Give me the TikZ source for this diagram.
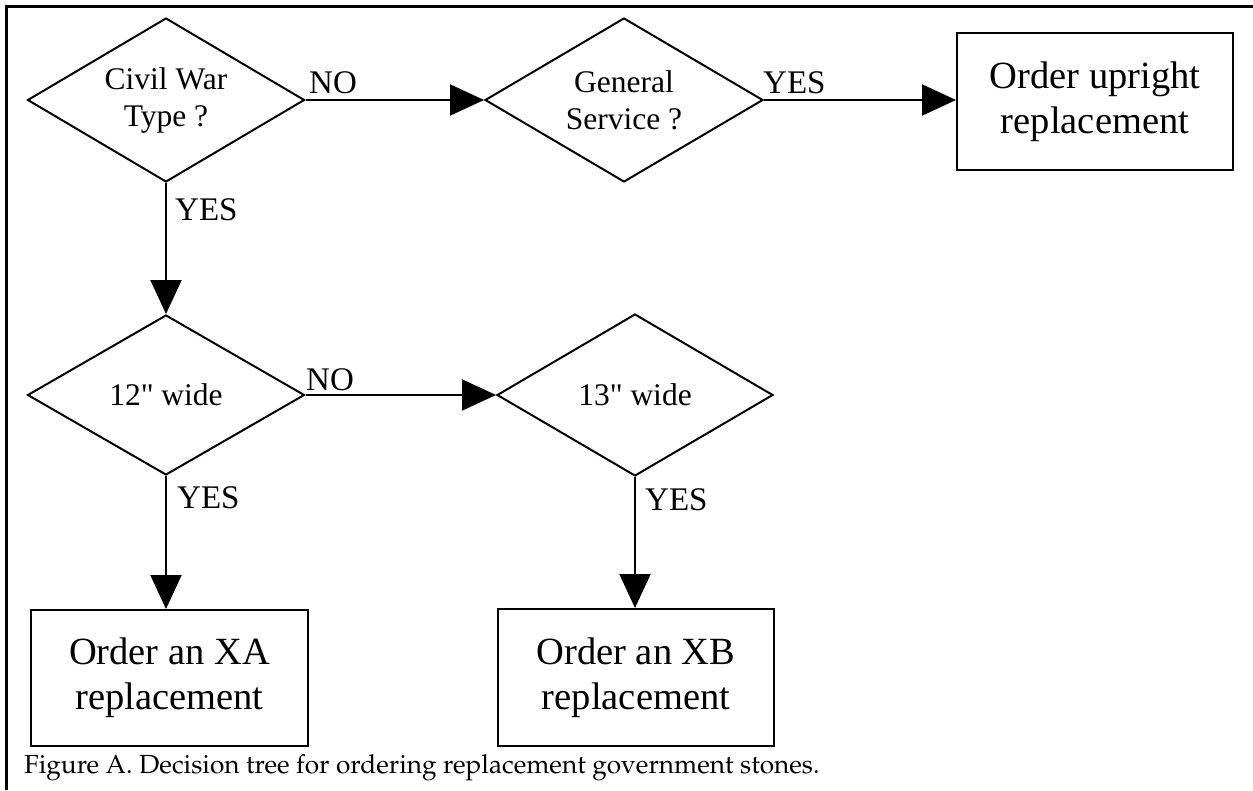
\documentclass[tikz,border=0pt]{standalone}
\usepackage{fontspec}
\usepackage[T1,TU]{fontenc}
\setmainfont{Liberation Serif}
\usetikzlibrary{shapes.geometric,arrows.meta}
\tikzset{
  line/.style={line width=2pt,draw=black},
  decision/.style={diamond,line,inner sep=0pt,shape aspect=1.69,align=center,
    font=\fontsize{31.5}{37}\selectfont},
  action/.style={rectangle,line,inner sep=0pt,align=center,
    font=\fontsize{38.5}{45}\selectfont},
  conn/.style={line,-{Triangle[length=34pt,width=31pt]}},
  lbl/.style={inner sep=0pt,font=\fontsize{33}{33}\selectfont},
  frameline/.style={line width=3pt,draw=black}
}
\begin{document}
\begin{tikzpicture}[x=1pt,y=-1pt]
\useasboundingbox (0,0) rectangle (1253,790);
% frame
\coordinate (fa) at (6,790);
\coordinate (fb) at (6,6);
\coordinate (fc) at (1253,6);
\draw[frameline] (fa) -- (fb) -- (fc);
% nodes
\node[decision,minimum width=277pt,minimum height=164pt] (d1) at (166,100) {Civil War\\Type ?};
\node[decision,minimum width=278pt,minimum height=164pt] (d2) at (624,100) {General\\Service ?};
\node[action,minimum width=276pt,minimum height=137pt] (b1) at (1095,101.5) {Order upright\\replacement};
\node[decision,minimum width=277pt,minimum height=160pt] (d3) at (166,395) {12\textquotedbl{} wide};
\node[decision,minimum width=276pt,minimum height=162pt] (d4) at (635,395) {13\textquotedbl{} wide};
\node[action,minimum width=277pt,minimum height=136pt] (bxa) at (169.5,678) {Order an XA\\replacement};
\node[action,minimum width=276pt,minimum height=137pt] (bxb) at (636,677.5) {Order an XB\\replacement};
% connectors
\draw[conn] (d1.east) -- (d2.west);
\draw[conn] (d2.east) -- (d2.east -| b1.west);
\draw[conn] (d1.south) -- (d3.north);
\draw[conn] (d3.east) -- (d4.west);
\draw[conn] (d3.south) -- (d3.south |- bxa.north);
\draw[conn] (d4.south) -- (d4.south |- bxb.north);
% labels
\node[lbl,anchor=base west] (l1) at (309,93) {NO};
\node[lbl,anchor=base west] (l2) at (763,93) {YES};
\node[lbl,anchor=base west] (l3) at (175,220) {YES};
\node[lbl,anchor=base west] (l4) at (306,390) {NO};
\node[lbl,anchor=base west] (l5) at (177,508) {YES};
\node[lbl,anchor=base west] (l6) at (645,510) {YES};
% caption
\node[inner sep=0pt,anchor=base west,font=\fontencoding{T1}\fontfamily{ppl}\fontsize{26.2}{30}\selectfont] (cap) at (24,773) {Figure A. Decision tree for ordering replacement government stones.};
\end{tikzpicture}
\end{document}
